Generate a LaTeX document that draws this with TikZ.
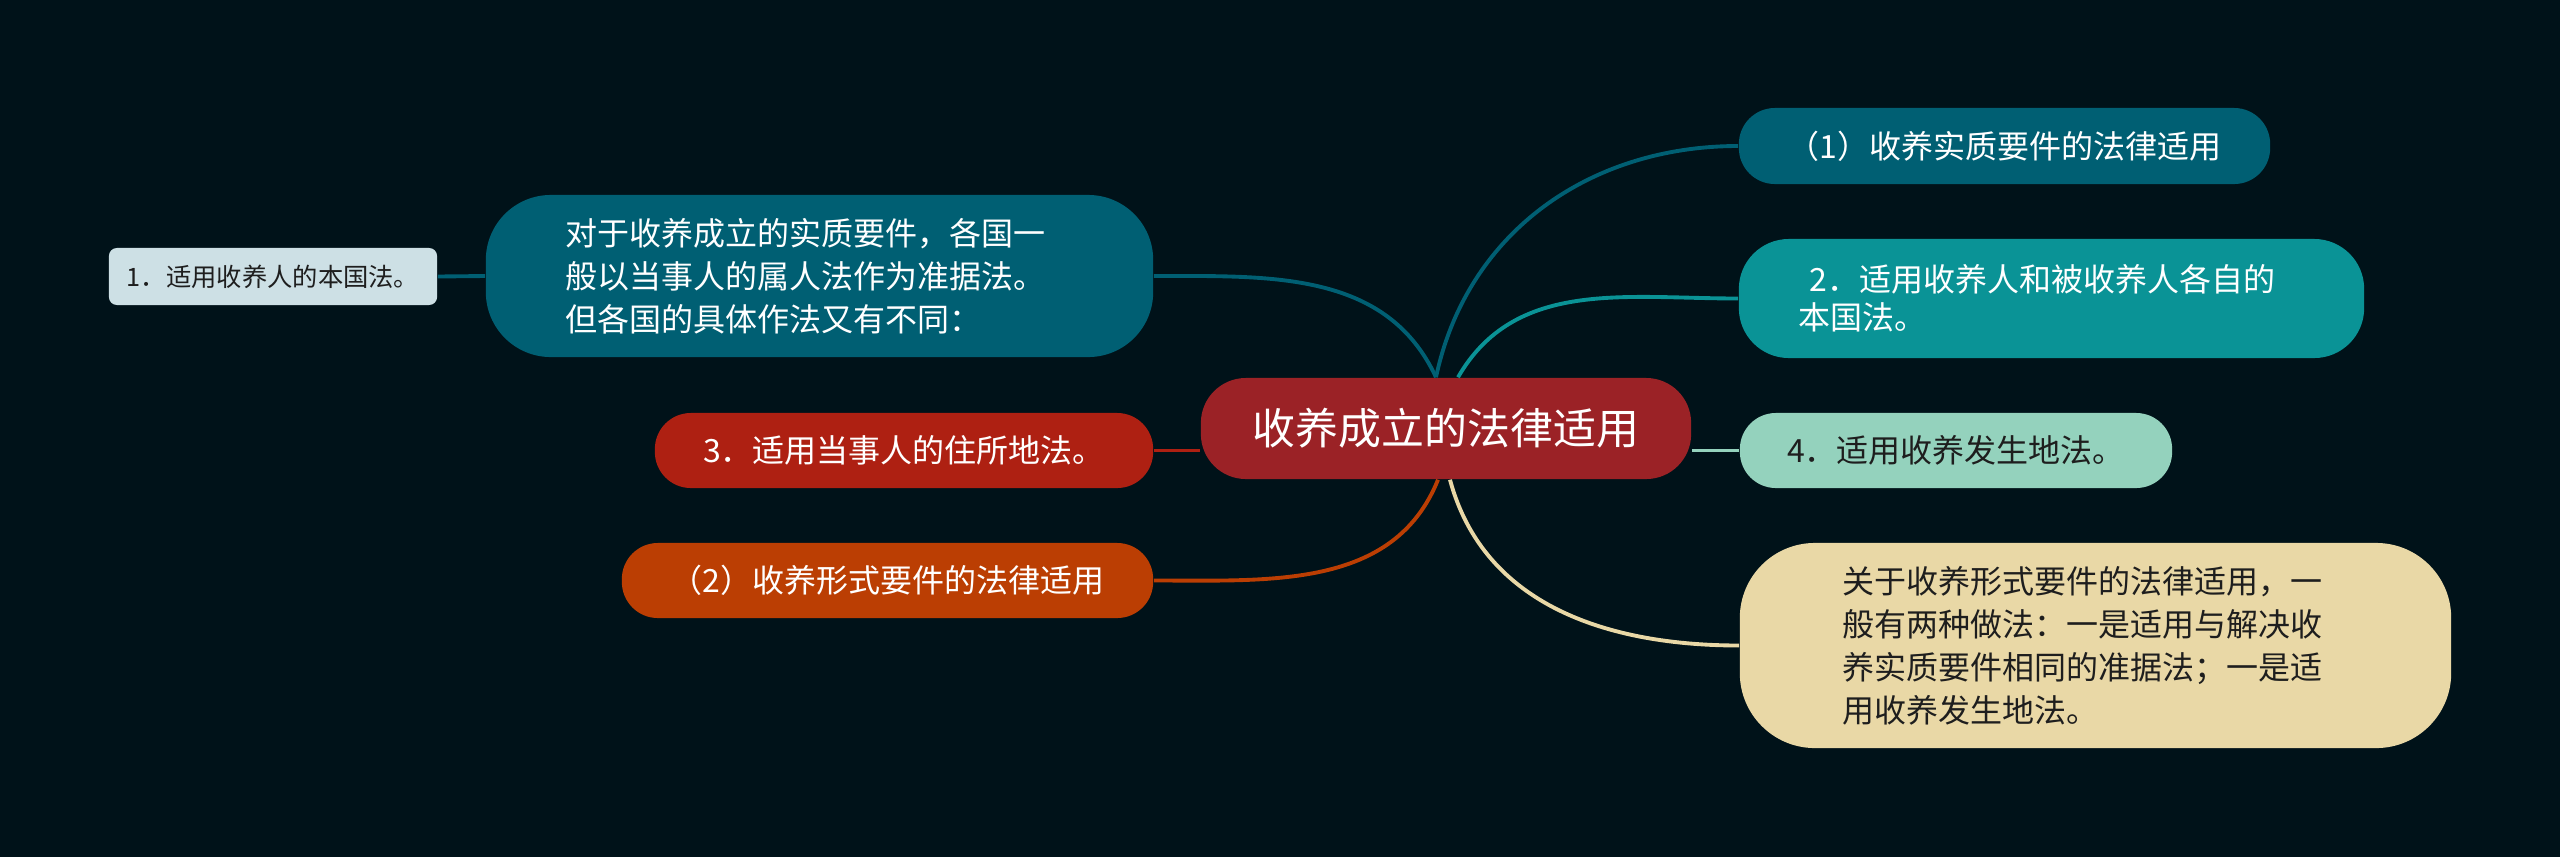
\documentclass[tikz,border=0pt]{standalone}
\usepackage{fontspec}
\setmainfont{Noto Sans CJK SC}
\definecolor{richblack}{HTML}{001219}
\definecolor{midnightgreen}{HTML}{005F73}
\definecolor{darkcyan}{HTML}{0A9396}
\definecolor{tiffanyblue}{HTML}{94D2BD}
\definecolor{palewheat}{HTML}{E9D8A6}
\definecolor{rust}{HTML}{BB3E03}
\definecolor{rufous}{HTML}{AE2012}
\definecolor{auburn}{HTML}{9B2226}
\definecolor{paleblue}{HTML}{CDE0E5}
\definecolor{inkgray}{HTML}{1E1E1E}

\begin{document}
\begin{tikzpicture}[x=0.01cm,y=-0.01cm,
    topic/.style={inner sep=0pt,font=\fontsize{9.1}{12.2}\selectfont},
    link/.style={line width=1.1pt}]

            \fill[richblack] (0,0) rectangle (2560,857);
            \useasboundingbox (0,0) rectangle (2560,857);

            % central topic
            \node[fill=auburn, rounded corners=0.45cm, minimum width=4.9cm, minimum height=1.01cm, text=white, inner sep=0pt, font=\fontsize{12.2}{14}\selectfont] (root) at (1446,428.5) {收养成立的法律适用};

            % right side
            \node[topic, fill=midnightgreen, rounded corners=0.36cm, minimum width=5.31cm, minimum height=0.76cm, text=white] (subst) at (2004.5,146) {（1）收养实质要件的法律适用};
            \node[topic, fill=darkcyan, rounded corners=0.5cm, minimum width=6.25cm, minimum height=1.19cm, text=white, text width=5.05cm, align=left, font=\fontsize{9.1}{10.8}\selectfont] (both) at (2051.5,298.5) {\ 2．适用收养人和被收养人各自的\\本国法。};
            \node[topic, fill=tiffanyblue, rounded corners=0.36cm, minimum width=4.32cm, minimum height=0.75cm, text=inkgray] (place) at (1956,450.5) {4．适用收养发生地法。};
            \node[topic, fill=palewheat, rounded corners=0.75cm, minimum width=7.11cm, minimum height=2.05cm, text=inkgray, text width=5.05cm, align=left] (form) at (2095.5,645.5) {关于收养形式要件的法律适用，一\\般有两种做法：一是适用与解决收\\养实质要件相同的准据法；一是适\\用收养发生地法。};

            % left side
            \node[topic, fill=midnightgreen, rounded corners=0.65cm, minimum width=6.67cm, minimum height=1.62cm, text=white, text width=5.07cm, align=left] (rule) at (819.5,276) {对于收养成立的实质要件，各国一\\般以当事人的属人法作为准据法。\\但各国的具体作法又有不同：};
            \node[topic, fill=paleblue, rounded corners=0.08cm, minimum width=3.28cm, minimum height=0.57cm, text=inkgray, font=\fontsize{7.2}{8.5}\selectfont] (nat) at (273,276.5) {1．适用收养人的本国法。};
            \node[topic, fill=rufous, rounded corners=0.36cm, minimum width=4.98cm, minimum height=0.75cm, text=white] (domicile) at (904,450.5) {3．适用当事人的住所地法。};
            \node[topic, fill=rust, rounded corners=0.36cm, minimum width=5.31cm, minimum height=0.75cm, text=white] (formal) at (887.5,580.5) {（2）收养形式要件的法律适用};

            % branches
            \draw[link, midnightgreen] ([xshift=-0.1cm]root.north) to[out=78,in=180] (subst.west);
            \draw[link, darkcyan] ([xshift=0.12cm]root.north) to[out=60,in=180] (both.west);
            \draw[link, tiffanyblue] (place.west) -- (place.west -| root.east);
            \draw[link, palewheat] ([xshift=0.04cm]root.south) to[out=-75,in=180] (form.west);
            \draw[link, midnightgreen] ([xshift=-0.1cm]root.north) to[out=115,in=0] (rule.east);
            \draw[link, rufous] (domicile.east) -- (domicile.east -| root.west);
            \draw[link, rust] ([xshift=-0.08cm]root.south) to[out=-112,in=0] (formal.east);
            \draw[link, midnightgreen] (nat.east) -- (rule.west);

\end{tikzpicture}
\end{document}
